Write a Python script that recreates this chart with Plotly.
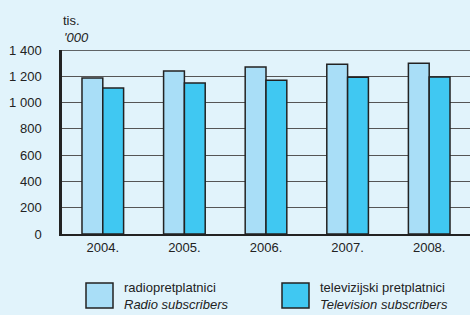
import plotly.graph_objects as go

years = ["2004.", "2005.", "2006.", "2007.", "2008."]
radio = [1187, 1240, 1271, 1291, 1299]
tv = [1111, 1149, 1170, 1192, 1195]
yticks = [0, 200, 400, 600, 800, 1000, 1200, 1400]

bg = "#E1F3FB"
c_radio = "#A9DEF7"
c_tv = "#40C8F2"
edge = "#222222"
font = "Liberation Sans, Arial, sans-serif"

fig = go.Figure()
fig.add_trace(go.Bar(x=years, y=radio, marker=dict(color=c_radio, line=dict(color=edge, width=1.5)), name="radio"))
fig.add_trace(go.Bar(x=years, y=tv, marker=dict(color=c_tv, line=dict(color=edge, width=1.5)), name="tv"))

W, H = 470, 315
fig.update_layout(
    width=W, height=H,
    margin=dict(l=62, r=0, t=50, b=81),
    paper_bgcolor=bg, plot_bgcolor=bg,
    barmode="group", bargap=0.49, bargroupgap=0,
    showlegend=False,
    separators=", ",
    font=dict(family=font, size=13, color="#222222"),
    xaxis=dict(showline=True, linecolor=edge, linewidth=2, mirror=False,
               ticks="", range=[-0.5, 4.5], tickfont=dict(size=13)),
    yaxis=dict(range=[0, 1400], tickvals=yticks, tickformat=",d",
               showgrid=True, gridcolor="#555555", gridwidth=1,
               showline=True, linecolor=edge, linewidth=2.5,
               ticks="", ticklabelstandoff=15, zeroline=False),
)
# top border line of plot area
fig.add_shape(type="line", xref="paper", yref="y", x0=0, x1=1, y0=1400, y1=1400,
              line=dict(color="#333333", width=1.5))
fig.add_annotation(text="tis.", xref="paper", yref="paper", x=0, y=1, xshift=-1, yshift=30,
                   xanchor="left", yanchor="middle", showarrow=False, font=dict(size=13))
fig.add_annotation(text="<i>'000</i>", xref="paper", yref="paper", x=0, y=1, xshift=0, yshift=13,
                   xanchor="left", yanchor="middle", showarrow=False, font=dict(size=13))

# legend
items = [(c_radio, "radiopretplatnici", "Radio subscribers", 86),
         (c_tv, "televizijski pretplatnici", "Television subscribers", 282)]
for col, l1, l2, x in items:
    fig.add_shape(type="rect", xref="paper", yref="paper",
                  x0=(x - 62) / 408, x1=(x + 27 - 62) / 408,
                  y0=-(308 - 234) / 184, y1=-(283 - 234) / 184,
                  fillcolor=col, line=dict(color=edge, width=1.5))
    fig.add_annotation(text=f"{l1}<br><i>{l2}</i>", xref="paper", yref="paper",
                       x=(x + 36 - 62) / 408, y=-(295.5 - 234) / 184,
                       xanchor="left", yanchor="middle", align="left", showarrow=False,
                       font=dict(size=13))

fig.write_html("out.html", config={"displayModeBar": False},
               post_script="document.body.style.margin='0';document.body.style.overflow='hidden';document.body.style.background='%s';" % bg)
